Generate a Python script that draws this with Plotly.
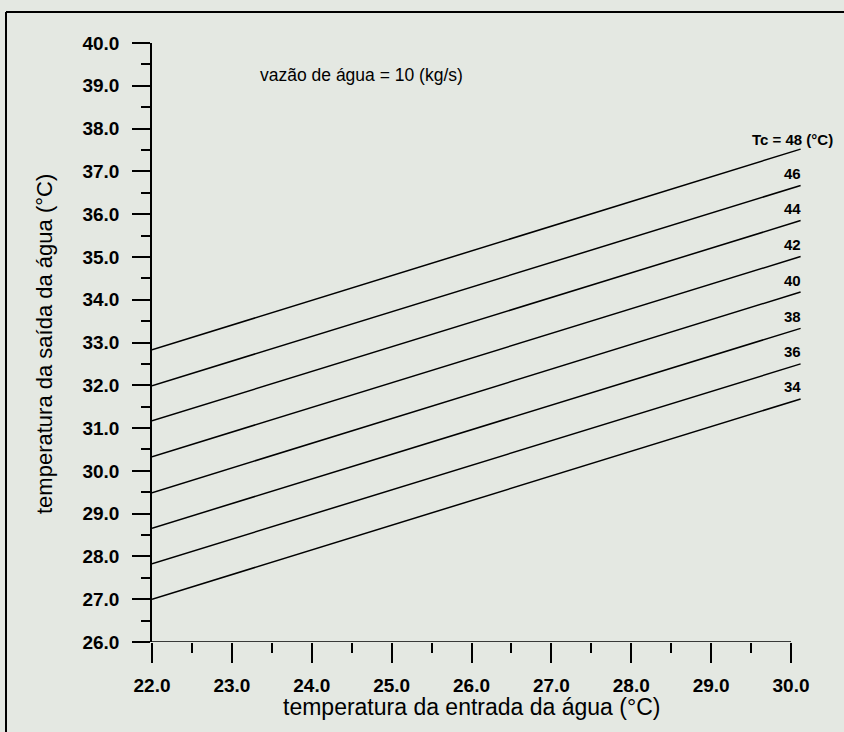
import plotly.graph_objects as go

# ---- data ----
x_inlet = [22.0, 30.12]
tc_values = [34, 36, 38, 40, 42, 44, 46, 48]
outlet_start = [27.00, 27.83, 28.66, 29.49, 30.33, 31.17, 31.99, 32.83]
outlet_end = [31.68, 32.50, 33.33, 34.18, 35.01, 35.85, 36.67, 37.52]
x_ticks = [22.0, 23.0, 24.0, 25.0, 26.0, 27.0, 28.0, 29.0, 30.0]
y_ticks = [26.0 + i for i in range(15)]
x_minor = [22.5, 23.5, 24.5, 25.5, 26.5, 27.5, 28.5, 29.5]
y_minor = [26.5 + i for i in range(14)]

W, H = 844, 732
L, R, T, B = 152, 41, 43, 90
XR = [22.0, 30.15]
YR = [26.0, 40.0]
BG = "#e4e8e2"
FONT = "Liberation Sans, Arial, sans-serif"

fig = go.Figure()
for tc, y0, y1 in zip(tc_values, outlet_start, outlet_end):
    fig.add_trace(go.Scatter(x=x_inlet, y=[y0, y1], mode="lines",
                             line=dict(color="black", width=1.5),
                             showlegend=False, hoverinfo="skip"))
    if tc == 48:
        fig.add_annotation(x=x_inlet[-1], y=y1, text="Tc = 48 (°C)", showarrow=False,
                           xanchor="right", yanchor="middle", xshift=34, yshift=10,
                           font=dict(size=15, family=FONT, color="black", weight="bold"))
    else:
        fig.add_annotation(x=x_inlet[-1], y=y1, text=str(tc), showarrow=False,
                           xanchor="center", yanchor="middle", xshift=-8, yshift=12,
                           font=dict(size=15, family=FONT, color="black", weight="bold"))

# x axis line only up to 30.0
fig.add_shape(type="line", xref="x", yref="y", x0=x_ticks[0], x1=x_ticks[-1], y0=YR[0], y1=YR[0],
              line=dict(color="black", width=1.5))

# outer frame (only left and top edges visible in the photo)
pw = W - L - R
ph = H - T - B
def px_to_paper_x(px):
    return (px - L) / pw
def py_to_paper_y(py):
    return 1 - (py - T) / ph
fig.add_shape(type="line", xref="paper", yref="paper",
              x0=px_to_paper_x(6), x1=px_to_paper_x(6),
              y0=py_to_paper_y(740), y1=py_to_paper_y(12),
              line=dict(color="black", width=2), layer="below")
fig.add_shape(type="line", xref="paper", yref="paper",
              x0=px_to_paper_x(6), x1=px_to_paper_x(850),
              y0=py_to_paper_y(12), y1=py_to_paper_y(12),
              line=dict(color="black", width=2), layer="below")

fig.add_annotation(x=24.62, y=39.25, text="vazão de água = 10 (kg/s)", showarrow=False,
                   xanchor="center", yanchor="middle",
                   font=dict(size=17.5, family=FONT, color="black"))

# axis titles
fig.add_annotation(xref="paper", yref="paper", x=px_to_paper_x(471), y=py_to_paper_y(707),
                   text="temperatura da entrada da água (°C)", showarrow=False,
                   xanchor="center", yanchor="middle",
                   font=dict(size=23, family=FONT, color="black"))
fig.add_annotation(xref="paper", yref="paper", x=px_to_paper_x(44), y=py_to_paper_y(344),
                   text="temperatura da saída da água (°C)", showarrow=False, textangle=-90,
                   xanchor="center", yanchor="middle",
                   font=dict(size=22, family=FONT, color="black"))

fig.update_layout(
    width=W, height=H,
    margin=dict(l=L, r=R, t=T, b=B, pad=0),
    paper_bgcolor=BG, plot_bgcolor=BG,
    font=dict(family=FONT, color="black"),
    xaxis=dict(range=XR, showgrid=False, zeroline=False, showline=False,
               tickvals=x_ticks, ticktext=[f"{v:.1f}" for v in x_ticks],
               ticks="outside", ticklen=20, tickwidth=1.5, tickcolor="black",
               ticklabelstandoff=6,
               tickfont=dict(size=19, family=FONT, color="black", weight="bold"),
               minor=dict(tickvals=x_minor, ticks="outside", ticklen=10, tickwidth=1.5,
                          tickcolor="black", showgrid=False)),
    yaxis=dict(range=YR, showgrid=False, zeroline=False, showline=True,
               linecolor="black", linewidth=1.5,
               tickvals=y_ticks, ticktext=[f"{v:.1f}" for v in y_ticks],
               ticks="outside", ticklen=18, tickwidth=1.5, tickcolor="black",
               ticklabelstandoff=9,
               tickfont=dict(size=19, family=FONT, color="black", weight="bold"),
               minor=dict(tickvals=y_minor, ticks="outside", ticklen=9, tickwidth=1.5,
                          tickcolor="black", showgrid=False)),
)

fig.write_html("out.html",
               config={"displayModeBar": False},
               post_script="document.body.style.margin='0';document.body.style.overflow='hidden';"
                           f"document.body.style.background='{BG}';")
